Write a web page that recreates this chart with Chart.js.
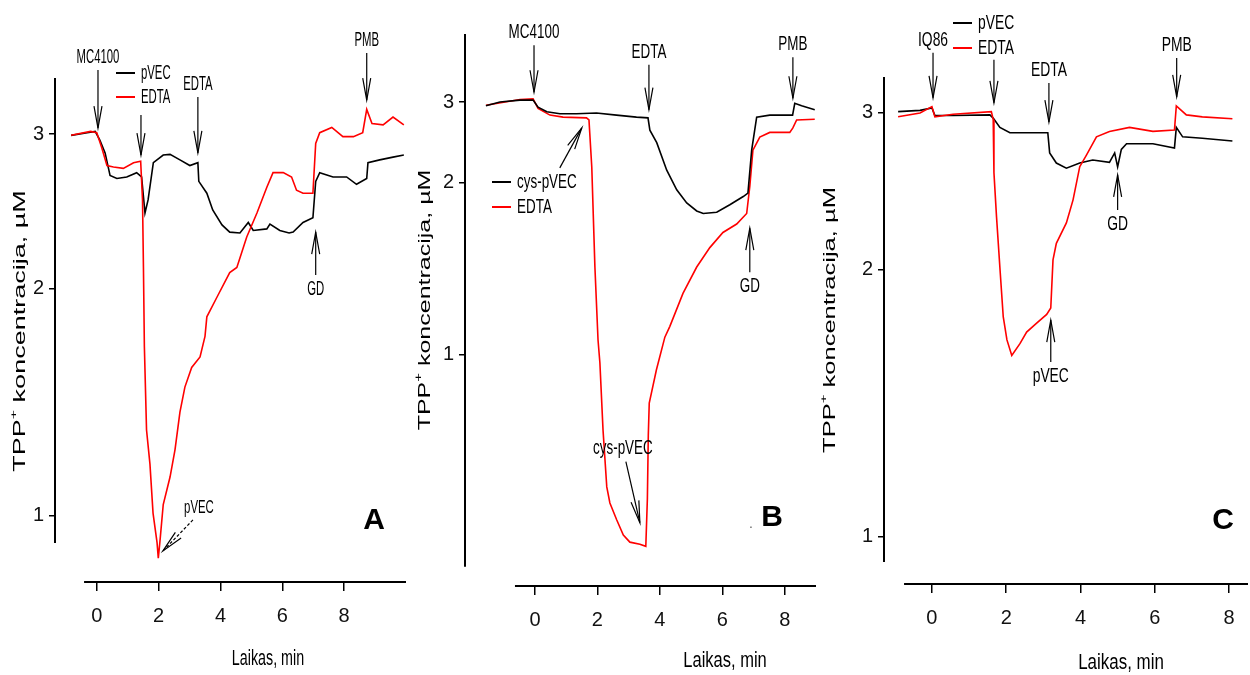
<!DOCTYPE html>
<html>
<head>
<meta charset="utf-8">
<script src="https://cdn.jsdelivr.net/npm/chart.js@4.4.1/dist/chart.umd.min.js"></script>
<style>
  html, body { margin: 0; padding: 0; background: #fff; }
  #wrap { position: relative; width: 1250px; height: 675px; }
  #wrap canvas { position: absolute; left: 0; top: 0; }
</style>
</head>
<body>
<div id="wrap">
  <canvas id="chartA" width="1250" height="675"></canvas>
  <canvas id="chartB" width="1250" height="675"></canvas>
  <canvas id="chartC" width="1250" height="675"></canvas>
</div>
<script>
// ---- data (time in min, TPP+ in uM) ----
const xTicks = [0, 2, 4, 6, 8];
const yTicks = [1, 2, 3];

// panel A
const tA_pVEC = [-0.83,-0.31,-0.05,0.1,0.27,0.43,0.65,0.97,1.29,1.45,1.56,1.66,1.83,2.15,2.37,2.69,3.01,3.27,3.3,3.56,3.75,4.05,4.3,4.63,4.9,5.06,5.5,5.6,5.92,6.22,6.35,6.67,6.99,7.08,7.21,7.64,8.08,8.4,8.73,8.77,9.15,9.58,9.93];
const cA_pVEC = [2.99,3.01,3.02,2.955,2.86,2.70,2.68,2.69,2.72,2.69,2.45,2.535,2.79,2.845,2.85,2.81,2.77,2.79,2.66,2.58,2.47,2.375,2.33,2.325,2.39,2.34,2.35,2.38,2.34,2.325,2.33,2.39,2.42,2.66,2.72,2.69,2.69,2.64,2.68,2.79,2.81,2.83,2.845];
const tA_EDTA = [-0.83,-0.2,0.0,0.16,0.33,0.54,0.86,1.19,1.42,1.48,1.51,1.54,1.61,1.72,1.82,1.95,1.99,2.04,2.15,2.37,2.53,2.69,2.85,3.07,3.34,3.5,3.56,3.89,4.3,4.53,4.85,5.18,5.5,5.7,6.03,6.3,6.46,6.67,6.99,7.08,7.21,7.6,7.96,8.3,8.6,8.73,8.9,9.26,9.58,9.93];
const cA_EDTA = [2.99,3.02,3.01,2.90,2.77,2.76,2.75,2.79,2.80,2.535,2.12,1.70,1.325,1.19,1.01,0.91,0.86,0.91,1.04,1.14,1.245,1.40,1.51,1.60,1.65,1.75,1.85,1.955,2.09,2.12,2.30,2.45,2.62,2.72,2.72,2.69,2.60,2.58,2.58,2.93,3.01,3.05,2.98,2.98,3.01,3.19,3.08,3.07,3.13,3.07];

// panel B
const tB_cys = [-1.57,-1.12,-0.48,-0.06,0.1,0.38,0.8,1.33,1.97,2.61,3.25,3.62,3.68,3.9,4.22,4.54,4.86,5.18,5.39,5.82,6.24,6.67,6.82,6.94,7.1,7.52,7.94,8.25,8.32,8.54,8.96];
const cB_cys = [2.94,3.0,3.03,3.03,2.92,2.85,2.82,2.82,2.83,2.80,2.77,2.76,2.59,2.43,2.12,1.93,1.815,1.75,1.73,1.74,1.80,1.87,1.90,2.34,2.77,2.80,2.80,2.80,2.98,2.94,2.88];
const tB_EDTA = [-1.57,-0.48,-0.06,0.1,0.48,0.9,1.65,1.73,1.82,1.92,2.02,2.08,2.18,2.3,2.4,2.62,2.83,3.04,3.36,3.55,3.6,3.63,3.66,3.89,4.16,4.32,4.74,5.18,5.6,6.02,6.46,6.78,6.88,6.98,7.2,7.52,8.16,8.26,8.38,8.96];
const cB_EDTA = [2.95,3.04,3.05,2.90,2.80,2.77,2.76,2.73,2.15,1.375,1.05,0.975,0.81,0.716,0.695,0.675,0.659,0.652,0.65,0.648,0.70,0.80,0.868,0.955,1.06,1.10,1.24,1.375,1.49,1.59,1.65,1.73,1.96,2.34,2.50,2.56,2.56,2.62,2.73,2.74];

// panel C
const tC_pVEC = [-0.91,-0.32,0,0.08,0.57,1.56,1.65,1.83,2.1,2.37,3.12,3.17,3.35,3.62,3.98,4.33,4.78,4.92,5.0,5.1,5.24,5.95,6.53,6.58,6.75,7.28,8.09];
const cC_pVEC = [3.01,3.02,3.04,2.98,2.98,2.985,2.96,2.89,2.85,2.85,2.85,2.705,2.635,2.60,2.635,2.656,2.64,2.705,2.608,2.73,2.77,2.77,2.74,2.89,2.82,2.81,2.79];
const tC_EDTA = [-0.91,-0.32,0,0.08,0.57,1.6,1.65,1.67,1.74,1.83,1.92,2.02,2.15,2.37,2.55,2.82,3.09,3.2,3.26,3.35,3.62,3.8,3.98,4.16,4.43,4.78,5.32,5.95,6.53,6.58,6.85,7.28,8.09];
const cC_EDTA = [2.97,3.0,3.05,2.97,2.99,3.01,2.95,2.57,2.29,2.01,1.77,1.666,1.60,1.65,1.70,1.74,1.78,1.81,2.05,2.14,2.256,2.395,2.61,2.69,2.82,2.86,2.89,2.86,2.87,3.055,2.985,2.97,2.955];

const toPoints = (ts, vs) => ts.map((t, i) => ({ x: t, y: vs[i] }));

// y axis: linear in log(value + shift)
class OffsetLogScale extends Chart.LinearScale {
  static id = 'offsetLog';
  static defaults = {};
  buildTicks() { return (this.options.tickValues || []).map(v => ({ value: v })); }
  _lg(v) { return Math.log(v + (this.options.shift || 0)); }
  getPixelForValue(v) {
    const a = this._lg(this.min), b = this._lg(this.max);
    return this.getPixelForDecimal((this._lg(v) - a) / (b - a));
  }
  getValueForPixel(p) {
    const a = this._lg(this.min), b = this._lg(this.max);
    return Math.exp(a + this.getDecimalForPixel(p) * (b - a)) - (this.options.shift || 0);
  }
}
Chart.register(OffsetLogScale);

const FONT = "'Liberation Sans', Arial, sans-serif";
const TICK_FONT = "'Liberation Sans Narrow', 'Liberation Sans', Arial, sans-serif";

function squeezed(ctx, txt, x, y, sx, size, align, bold) {
  ctx.save();
  ctx.translate(x, y);
  ctx.scale(sx, 1);
  ctx.font = (bold ? 'bold ' : '') + size + 'px ' + FONT;
  ctx.textAlign = align || 'center';
  ctx.textBaseline = 'middle';
  ctx.fillText(txt, 0, 0);
  ctx.restore();
}

function arrowHead(ctx, x, y, ang) {
  // open V head, ang = direction the arrow points to
  const hl = 22, hw = 4;
  const ux = Math.cos(ang), uy = Math.sin(ang);
  ctx.beginPath();
  ctx.moveTo(x - ux * hl - uy * hw, y - uy * hl + ux * hw);
  ctx.lineTo(x, y);
  ctx.lineTo(x - ux * hl + uy * hw, y - uy * hl - ux * hw);
  ctx.stroke();
}

const deco = {
  id: 'deco',
  afterDraw(chart, args, o) {
    const ctx = chart.ctx, xs = chart.scales.x, ys = chart.scales.y, ca = chart.chartArea;
    ctx.save();
    ctx.strokeStyle = '#000';
    ctx.fillStyle = '#000';
    // offset axis lines
    ctx.lineWidth = 2;
    ctx.beginPath();
    ctx.moveTo(ca.left, ca.top);
    ctx.lineTo(ca.left, ys.getPixelForValue(o.yLineEnd));
    ctx.moveTo(xs.getPixelForValue(o.xLineStart), ca.bottom);
    ctx.lineTo(ca.right, ca.bottom);
    ctx.stroke();

    // arrows and labels
    ctx.lineWidth = 1.2;
    o.notes.forEach(n => {
      const px = xs.getPixelForValue(n.t), py = ys.getPixelForValue(n.v);
      const sx = n.sx || o.sx, size = n.size || 21;
      if (n.dx !== undefined) {
        const tx = px + n.dx, ty = py + n.dy;
        ctx.setLineDash(n.dash ? [3, 2] : []);
        ctx.beginPath(); ctx.moveTo(tx, ty); ctx.lineTo(px, py); ctx.stroke();
        ctx.setLineDash([]);
        arrowHead(ctx, px, py, Math.atan2(-n.dy, -n.dx));
        if (n.label) squeezed(ctx, n.label, tx + n.lx, ty + n.ly, sx, size);
      } else if (n.dir === 'up') {
        ctx.beginPath(); ctx.moveTo(px, py); ctx.lineTo(px, py + n.len); ctx.stroke();
        arrowHead(ctx, px, py, -Math.PI / 2);
        if (n.label) squeezed(ctx, n.label, px, py + n.len + 14, sx, size);
      } else {
        ctx.beginPath(); ctx.moveTo(px, py); ctx.lineTo(px, py - n.len); ctx.stroke();
        arrowHead(ctx, px, py, Math.PI / 2);
        if (n.label) squeezed(ctx, n.label, px, py - n.len - 13, sx, size);
      }
    });

    // legend
    const lg = o.legend;
    lg.items.forEach((it, i) => {
      const y = lg.y + i * lg.gap;
      ctx.strokeStyle = it.color; ctx.lineWidth = 2;
      ctx.beginPath(); ctx.moveTo(lg.x, y); ctx.lineTo(lg.x + 19, y); ctx.stroke();
      squeezed(ctx, it.text, lg.x + 25, y, o.sx, 21, 'left');
    });

    // axis titles
    const xt = o.xTitle;
    squeezed(ctx, 'Laikas, min', xt.x, xt.y, xt.sx, 22);
    const yt = o.yTitle;
    ctx.save();
    ctx.translate(yt.x, yt.y);
    ctx.rotate(-Math.PI / 2);
    ctx.scale(1, yt.sy);
    ctx.textBaseline = 'middle';
    const f = yt.size;
    ctx.font = f + 'px ' + FONT;
    const w1 = ctx.measureText('TPP').width;
    ctx.font = Math.round(f * 0.6) + 'px ' + FONT;
    const w2 = ctx.measureText('+').width;
    ctx.font = f + 'px ' + FONT;
    const w3 = ctx.measureText(' koncentracija, \u00B5M').width;
    let x0 = -(w1 + w2 + w3) / 2;
    ctx.textAlign = 'left';
    ctx.fillText('TPP', x0, 0);
    ctx.font = Math.round(f * 0.6) + 'px ' + FONT;
    ctx.fillText('+', x0 + w1, -f * 0.35);
    ctx.font = f + 'px ' + FONT;
    ctx.fillText(' koncentracija, \u00B5M', x0 + w1 + w2, 0);
    ctx.restore();

    // panel letter
    const L = o.letter;
    ctx.font = 'bold 30px ' + FONT;
    ctx.textAlign = 'center'; ctx.textBaseline = 'middle';
    ctx.fillText(L.text, L.x, L.y);
    if (L.dot) { ctx.font = '14px ' + FONT; ctx.fillStyle = '#666'; ctx.fillText('.', L.dot[0], L.dot[1]); }
    ctx.restore();
  }
};

function makeChart(id, p) {
  return new Chart(document.getElementById(id), {
    type: 'line',
    data: {
      datasets: p.series.map(s => ({
        data: toPoints(s.t, s.v),
        borderColor: s.color,
        borderWidth: 1.6,
        pointRadius: 0,
        tension: 0,
        fill: false,
        order: s.order
      }))
    },
    options: {
      responsive: false,
      animation: false,
      events: [],
      layout: { padding: { left: p.area.left - 55, right: 1250 - p.area.right, top: p.area.top, bottom: 675 - p.area.bottom - 60 } },
      scales: {
        x: {
          type: 'linear', min: p.xMin, max: p.xMax,
          border: { display: false },
          grid: { drawOnChartArea: false, drawTicks: true, tickLength: 9, color: '#000', lineWidth: 1.5 },
          ticks: { autoSkip: false, maxRotation: 0, padding: 13, color: '#111', font: { family: TICK_FONT, size: 20 } },
          afterBuildTicks: s => { s.ticks = xTicks.map(v => ({ value: v })); },
          afterFit: s => { s.height = 60; }
        },
        y: {
          type: 'offsetLog', min: p.yMin, max: p.yMax, shift: p.shift, tickValues: yTicks,
          border: { display: false },
          grid: { drawOnChartArea: false, drawTicks: true, tickLength: 6, color: '#000', lineWidth: 1.5 },
          ticks: { autoSkip: false, padding: 5, color: '#111', font: { family: TICK_FONT, size: 20 } },
          afterFit: s => { s.width = 55; }
        }
      },
      plugins: {
        legend: { display: false },
        tooltip: { enabled: false },
        deco: p.deco
      }
    },
    plugins: [deco]
  });
}

makeChart('chartA', {
  area: { left: 55, right: 406, top: 78, bottom: 582 },
  xMin: -1.35, xMax: 10, yMin: 0.786, yMax: 3.447, shift: 0.7,
  series: [
    { t: tA_pVEC, v: cA_pVEC, color: '#000', order: 2 },
    { t: tA_EDTA, v: cA_EDTA, color: '#ff0000', order: 1 }
  ],
  deco: {
    sx: 0.54, yLineEnd: 0.909, xLineStart: -0.41,
    notes: [
      { label: 'MC4100', t: 0.04, v: 3.045, len: 58 },
      { label: '', t: 1.43, v: 2.845, len: 40 },
      { label: 'EDTA', t: 3.27, v: 2.86, len: 56 },
      { label: 'PMB', t: 8.73, v: 3.265, len: 47 },
      { label: 'GD', t: 7.08, v: 2.33, len: 43, dir: 'up' },
      { label: 'pVEC', t: 2.14, v: 0.883, dx: 30, dy: -31, lx: 6, ly: -12, dash: true, size: 19, sx: 0.6 }
    ],
    legend: { x: 116, y: 73, gap: 24, items: [{ text: 'pVEC', color: '#000' }, { text: 'EDTA', color: '#ff0000' }] },
    xTitle: { x: 268, y: 659, sx: 0.65 },
    yTitle: { x: 20, y: 331, size: 27, sy: 0.62 },
    letter: { text: 'A', x: 374, y: 521 }
  }
});

makeChart('chartB', {
  area: { left: 465, right: 816, top: 34, bottom: 586 },
  xMin: -2.24, xMax: 9.0, yMin: 0.615, yMax: 4.353, shift: -0.5,
  series: [
    { t: tB_cys, v: cB_cys, color: '#000', order: 1 },
    { t: tB_EDTA, v: cB_EDTA, color: '#ff0000', order: 2 }
  ],
  deco: {
    sx: 0.64, yLineEnd: 0.630, xLineStart: -0.64,
    notes: [
      { label: 'MC4100', t: -0.03, v: 3.16, len: 47 },
      { label: 'EDTA', t: 3.65, v: 2.88, len: 45 },
      { label: 'PMB', t: 8.26, v: 3.06, len: 41 },
      { label: 'GD', t: 6.88, v: 1.62, len: 44, dir: 'up' },
      { label: '', t: 1.5, v: 2.62, dx: -22, dy: 40 },
      { label: 'cys-pVEC', t: 3.36, v: 0.672, dx: -14, dy: -61, lx: -3, ly: -14 }
    ],
    legend: { x: 492, y: 182, gap: 25, items: [{ text: 'cys-pVEC', color: '#000' }, { text: 'EDTA', color: '#ff0000' }] },
    xTitle: { x: 725, y: 661, sx: 0.75 },
    yTitle: { x: 425, y: 300, size: 25, sy: 0.67 },
    letter: { text: 'B', x: 772, y: 518, dot: [751, 524] }
  }
});

makeChart('chartC', {
  area: { left: 884, right: 1248, top: 77, bottom: 584 },
  xMin: -1.29, xMax: 8.51, yMin: 0.885, yMax: 3.293, shift: 0,
  series: [
    { t: tC_pVEC, v: cC_pVEC, color: '#000', order: 2 },
    { t: tC_EDTA, v: cC_EDTA, color: '#ff0000', order: 1 }
  ],
  deco: {
    sx: 0.66, yLineEnd: 0.937, xLineStart: -0.75,
    notes: [
      { label: 'IQ86', t: 0.03, v: 3.12, len: 45 },
      { label: '', t: 1.67, v: 3.08, len: 43 },
      { label: 'EDTA', t: 3.15, v: 2.93, len: 39 },
      { label: 'PMB', t: 6.59, v: 3.127, len: 39 },
      { label: 'GD', t: 5.0, v: 2.555, len: 35, dir: 'up' },
      { label: 'pVEC', t: 3.2, v: 1.754, len: 42, dir: 'up' }
    ],
    legend: { x: 953, y: 23, gap: 25, items: [{ text: 'pVEC', color: '#000' }, { text: 'EDTA', color: '#ff0000' }] },
    xTitle: { x: 1121, y: 663, sx: 0.77 },
    yTitle: { x: 830, y: 320, size: 25.5, sy: 0.66 },
    letter: { text: 'C', x: 1223, y: 521 }
  }
});
</script>
</body>
</html>
